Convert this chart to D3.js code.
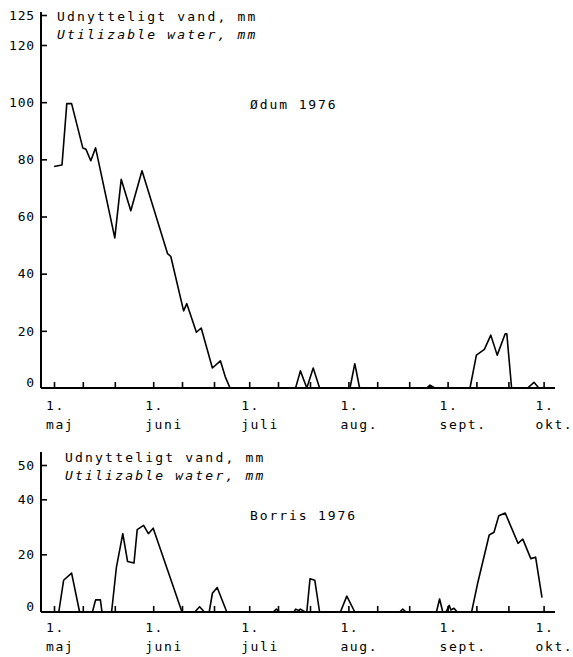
<!DOCTYPE html>
<html><head><meta charset="utf-8">
<script src="https://cdn.jsdelivr.net/npm/d3@7"></script>
<style>
body{margin:0;background:#fff}
svg text{font-family:"DejaVu Sans Mono",monospace;fill:#000}
</style></head>
<body><svg id="chart" width="573" height="657"></svg>
<script>
// Season axis: first of each month is labelled, 10th and 20th get a plain tick
const monthStarts = ["05-01","06-01","07-01","08-01","09-01","10-01"];
const minorDays = ["05-10","05-20","06-10","06-20","07-10","07-20","08-10","08-20","09-10","09-20"];
const monthNames = ["maj","juni","juli","aug.","sept.","okt."];

const headerDa = "Udnytteligt vand, mm";
const headerEn = "Utilizable water, mm";

// Ødum 1976 – utilizable water (mm)
const odumDates = ["05-01","05-03T12","05-05","05-06T12","05-10","05-11","05-12T12","05-14",
  "05-20","05-22","05-25","05-28T12","06-05T12","06-06T12","06-10T12","06-11T12",
  "06-14T12","06-16","06-19T12","06-22","06-23T12","06-25","07-15T12","07-17","07-19",
  "07-21","07-23","08-01T12","08-03","08-04T12","08-25T12","08-26T12","08-28","09-08",
  "09-10","09-12T12","09-14T12","09-16T12","09-19","09-19T12","09-21","09-26","09-28",
  "09-29T12","10-01"];
const odumValues = [77.5,78,99.5,99.5,84,83.5,79.5,84,
  52.5,73,62,76,47,46,27,29.5,
  19.5,21,7,9.5,4,0,0,6,0,
  7,0,0,8.5,0,0,1,0,0,
  11.5,13.5,18.5,11.5,19,19,0,0,2,
  0,0];
const odumTicks = [0,20,40,60,80,100,120,125];

// Borris 1976 – utilizable water (mm)
const borrisDates = ["05-02T12","05-04","05-06T12","05-09","05-13","05-14","05-15T12","05-16",
  "05-19","05-20T12","05-22T12","05-24","05-26","05-27","05-29","05-30T12","06-01",
  "06-10","06-14","06-15T12","06-17","06-18T12","06-19T12","06-21","06-24",
  "07-08T12","07-09T12","07-10T12","07-15","07-15T12","07-16T12","07-17","07-18T12",
  "07-19","07-20","07-21T12","07-23","07-29T12","07-31T12","08-03",
  "08-17","08-18","08-19","08-28T12","08-29T12","08-30T12","08-31T12","09-01T12",
  "09-02","09-03","09-04","09-08T12","09-10T12","09-14","09-15T12","09-17","09-19",
  "09-23","09-24T12","09-27","09-28T12","09-30T12"];
const borrisValues = [0,11,13.5,0,0,4.2,4.2,0,
  0,15.5,27.5,17.5,17,29,30.5,27.5,29.5,
  0,0,1.8,0,0,6.5,8.5,0,
  0,1,0,0,1,0.5,1,0,
  0,11.5,11,0,0,5.5,0,
  0,1,0,0,4.5,0,0,2.3,
  0.7,1.3,0,0,10.5,27,28,34,35,
  24,25.5,18.5,19,5];
const borrisTicks = [0,20,40,50];

function parseDay(s){
  const [md,h] = s.split("T");
  const [m,d] = md.split("-").map(Number);
  return new Date(1976, m-1, d, h ? +h : 0);
}

const svg = d3.select("#chart");
const x = d3.scaleTime()
  .domain([parseDay("05-01"), parseDay("10-01")])
  .range([54, 543.6]);

function panel(opt){
  const g = svg.append("g");
  const y = d3.scaleLinear().domain(opt.yDomain).range(opt.yRange);
  const y0 = y(0);

  // vertical axis line and inward ticks
  g.append("line").attr("x1",41).attr("x2",41).attr("y1",opt.axisTop).attr("y2",y0)
    .attr("stroke","#000").attr("stroke-width",2);
  const ya = g.append("g").attr("transform","translate(41,0)")
    .call(d3.axisLeft(y).tickValues(opt.yTicks).tickSizeInner(-6).tickSizeOuter(0).tickPadding(6));
  ya.select(".domain").remove();
  ya.selectAll(".tick line").attr("stroke","#000").attr("stroke-width",1.6)
    .filter(d => d === 0).remove();
  ya.selectAll(".tick text").attr("font-size",13).attr("letter-spacing","0.8px")
    .attr("font-family","DejaVu Sans Mono").attr("fill","#000")
    .filter(d => d === 0).attr("y",-6);

  // horizontal axis line and inward ticks
  g.append("line").attr("x1",41).attr("x2",555).attr("y1",y0).attr("y2",y0)
    .attr("stroke","#000").attr("stroke-width",2);
  const xa = g.append("g").attr("transform",`translate(0,${y0})`)
    .call(d3.axisBottom(x)
      .tickValues(monthStarts.concat(minorDays).map(parseDay))
      .tickSizeInner(-6).tickSizeOuter(0).tickFormat(""));
  xa.select(".domain").remove();
  xa.selectAll(".tick line").attr("stroke","#000").attr("stroke-width",1.6);

  // month labels: "1." over the month name
  monthStarts.forEach((m,i) => {
    const px = x(parseDay(m)) - 8;
    g.append("text").attr("x",px).attr("y",y0+opt.lab1).attr("font-size",13)
      .attr("letter-spacing","1.6px").text("1.");
    g.append("text").attr("x",px).attr("y",y0+opt.lab1+19).attr("font-size",13)
      .attr("letter-spacing","1.6px").text(monthNames[i]);
  });

  // axis title and station name
  g.append("text").attr("x",opt.hx).attr("y",opt.hy).attr("font-size",13)
    .attr("letter-spacing","2.2px").text(headerDa);
  g.append("text").attr("x",opt.hx).attr("y",opt.hy+18).attr("font-size",13)
    .attr("font-style","italic").attr("letter-spacing","2.2px").text(headerEn);
  g.append("text").attr("x",250).attr("y",opt.sy).attr("font-size",13)
    .attr("letter-spacing","1.9px").text(opt.station);

  // water curve
  const pts = opt.dates.map((d,i) => [parseDay(d), opt.values[i]]);
  g.append("path").datum(pts)
    .attr("fill","none").attr("stroke","#000").attr("stroke-width",1.6)
    .attr("stroke-linejoin","round")
    .attr("d", d3.line().x(p => x(p[0])).y(p => y(p[1])));
}

panel({
  yDomain:[0,120,125], yRange:[388,45,15], yTicks:odumTicks, axisTop:12,
  dates:odumDates, values:odumValues, station:"Ødum 1976",
  hx:57, hy:20.5, sy:109, lab1:22
});
panel({
  yDomain:[0,20,40,50], yRange:[612,554.3,499.3,465], yTicks:borrisTicks, axisTop:452,
  dates:borrisDates, values:borrisValues, station:"Borris 1976",
  hx:65, hy:462, sy:520, lab1:20
});
</script>
</body></html>
